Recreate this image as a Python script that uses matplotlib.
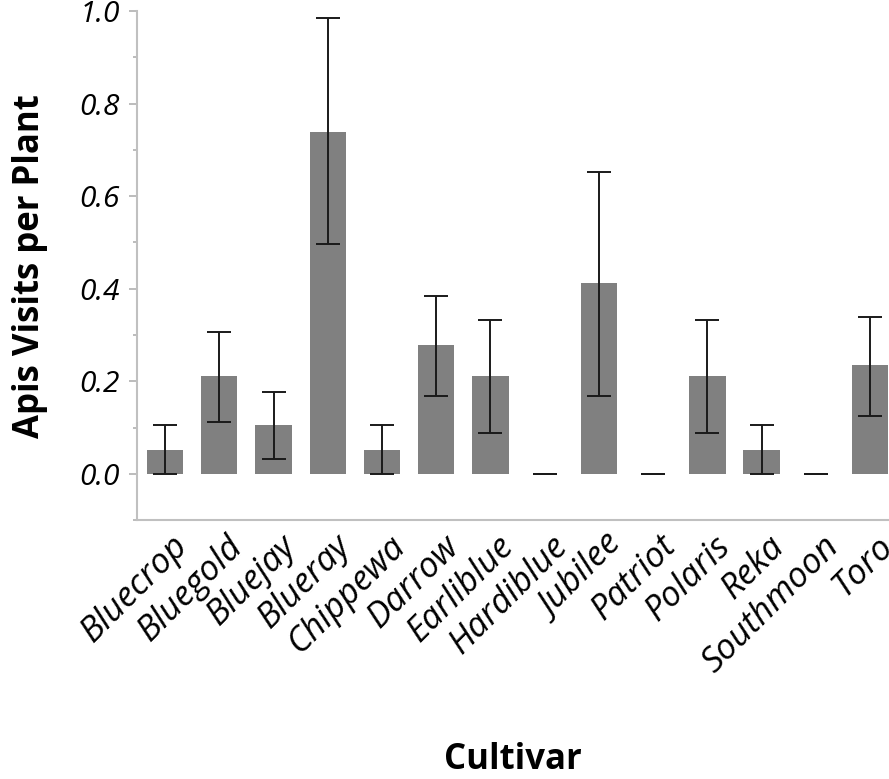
import matplotlib
matplotlib.use("Agg")
import matplotlib.pyplot as plt
import matplotlib.transforms as mtransforms
import numpy as np
from matplotlib.ticker import MultipleLocator

cultivars = ["Bluecrop", "Bluegold", "Bluejay", "Blueray", "Chippewa", "Darrow",
             "Earliblue", "Hardiblue", "Jubilee", "Patriot", "Polaris", "Reka",
             "Southmoon", "Toro"]
means = [0.053, 0.211, 0.106, 0.739, 0.053, 0.279, 0.211, 0.0, 0.412, 0.0,
         0.211, 0.053, 0.0, 0.236]
err_low = [0.0, 0.113, 0.033, 0.496, 0.0, 0.169, 0.088, 0.0, 0.169, 0.0,
           0.088, 0.0, 0.0, 0.126]
err_high = [0.105, 0.307, 0.177, 0.985, 0.105, 0.384, 0.333, 0.0, 0.653, 0.0,
            0.333, 0.105, 0.0, 0.339]

plt.rcParams["font.family"] = ["Open Sans", "DejaVu Sans"]

fig = plt.figure(figsize=(8.89, 7.79), dpi=100)
ax = fig.add_axes([0.154, 0.332, 0.846, 0.654])

x = np.arange(len(cultivars))
m = np.array(means)
yerr = np.vstack([m - np.array(err_low), np.array(err_high) - m])

ax.bar(x, m, width=0.67, color="#808080", zorder=2)
ax.errorbar(x, m, yerr=yerr, fmt="none", ecolor="#1a1a1a", elinewidth=1.4,
            capsize=8.5, capthick=1.4, zorder=3)

ax.set_xlim(-0.52, 13.35)
ax.set_ylim(-0.1, 1.0)
ax.yaxis.set_minor_locator(MultipleLocator(0.1))
ax.set_yticks(np.arange(0, 1.01, 0.2))
ax.set_yticklabels([f"{v:.1f}" for v in np.arange(0, 1.01, 0.2)],
                   fontsize=21.5, style="italic")

ax.set_xticks(x)
ax.set_xticklabels(cultivars, rotation=45, ha="right", va="center",
                   rotation_mode="anchor", fontsize=25, style="italic")
ax.tick_params(axis="x", length=0, pad=12)
ax.tick_params(axis="y", which="major", length=6, color="#b0b0b0", width=1.2, pad=6)
ax.tick_params(axis="y", which="minor", length=3, color="#b0b0b0", width=1.2)

# nudge the rotated labels so their ends sit just right of each bar
shift = mtransforms.ScaledTranslation(13 / 72, -3 / 72, fig.dpi_scale_trans)
for lbl in ax.get_xticklabels():
    lbl.set_transform(lbl.get_transform() + shift)

for side in ["top", "right"]:
    ax.spines[side].set_visible(False)
for side in ["left", "bottom"]:
    ax.spines[side].set_color("#c0c0c0")
    ax.spines[side].set_linewidth(1.5)

ax.set_ylabel("Apis Visits per Plant", fontsize=25, fontweight="bold", va="center")
ax.yaxis.set_label_coords(-0.142, 0.5)
ax.set_xlabel("Cultivar", fontsize=25, fontweight="bold", va="center")
ax.xaxis.set_label_coords(0.5, -0.47)

fig.savefig("out.png", dpi=100)
